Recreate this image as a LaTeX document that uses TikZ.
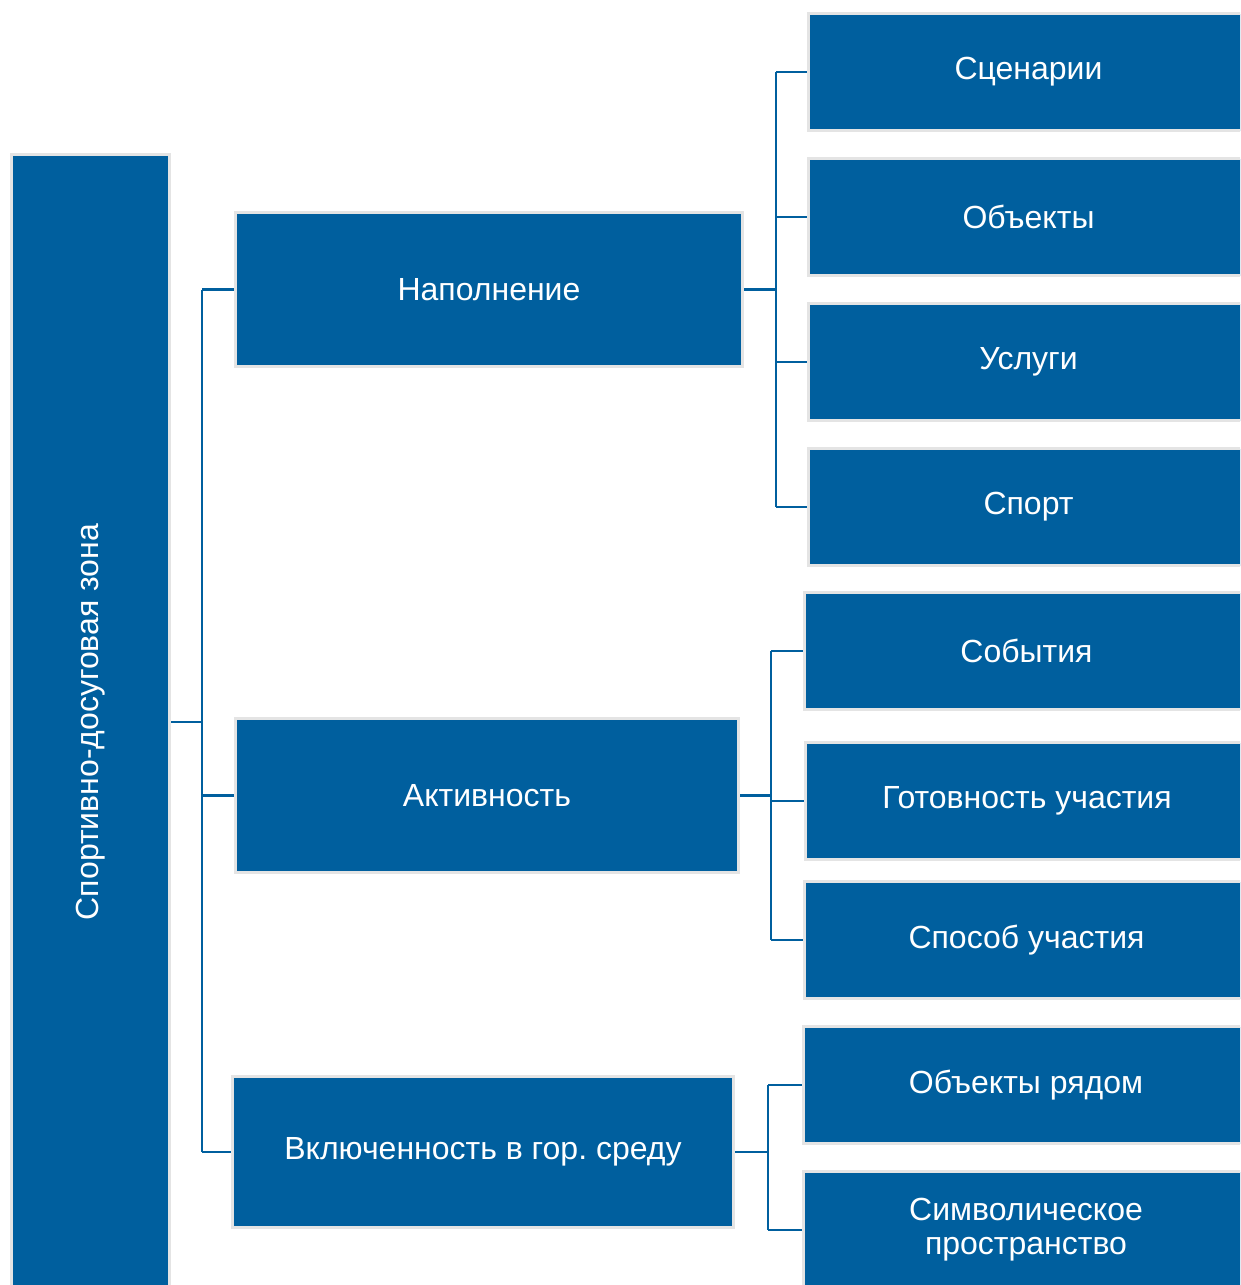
\documentclass[tikz,border=0pt]{standalone}
\usepackage{fontspec}
\setmainfont{Liberation Sans}
\frenchspacing
\definecolor{boxblue}{RGB}{0,95,158}
\definecolor{boxborder}{RGB}{228,228,228}
\begin{document}
\begin{tikzpicture}[x=1pt,y=-1pt,
  box/.style={draw=boxborder, line width=3pt, fill=boxblue, text=white, inner sep=0pt,
    font=\fontsize{32}{34}\selectfont, align=center},
  conn/.style={draw=boxblue, line width=2.5pt}]
\useasboundingbox (0,0) rectangle (1240,1285);
\clip (0,0) rectangle (1240,1285);
% main
\node[box, minimum width=158pt, minimum height=1135pt] (main) at (90.5,722) {};
\node[text=white, rotate=90, font=\fontsize{32}{34}\selectfont] (maintext) at (90.5,722) {Спортивно-досуговая зона};
% level 2
\node[box, minimum width=507pt, minimum height=154pt] (nap) at (489,289.5) {Наполнение};
\node[box, minimum width=503pt, minimum height=154pt] (akt) at (487,795.5) {Активность};
\node[box, minimum width=501pt, minimum height=151pt] (vkl) at (483,1152) {Включенность в гор.\ среду};
% level 3
\node[box, minimum width=440pt, minimum height=117pt] (scen) at (1028.5,72) {Сценарии};
\node[box, minimum width=440pt, minimum height=117pt] (obj) at (1028.5,217) {Объекты};
\node[box, minimum width=440pt, minimum height=117pt] (usl) at (1028.5,362) {Услуги};
\node[box, minimum width=440pt, minimum height=117pt] (sport) at (1028.5,507) {Спорт};
\node[box, minimum width=444pt, minimum height=117pt] (sob) at (1026.5,651) {События};
\node[box, minimum width=443pt, minimum height=117pt] (got) at (1027,801) {Готовность участия};
\node[box, minimum width=444pt, minimum height=117pt] (spos) at (1026.5,940) {Способ участия};
\node[box, minimum width=445pt, minimum height=117pt] (objr) at (1026,1085) {Объекты рядом};
\node[box, minimum width=445pt, minimum height=117pt] (simv) at (1026,1230) {Символическое\\пространство};
% connectors main
\coordinate (b1) at (202,722);
\draw[conn] (main.east) -- (b1);
\draw[conn] (b1 |- nap.west) -- (b1 |- vkl.west);
\draw[conn] (b1 |- nap.west) -- (nap.west);
\draw[conn] (b1 |- akt.west) -- (akt.west);
\draw[conn] (b1 |- vkl.west) -- (vkl.west);
% connectors nap
\coordinate (b2) at (776,289.5);
\draw[conn] (nap.east) -- (b2);
\draw[conn] (b2 |- scen.west) -- (b2 |- sport.west);
\foreach \n in {scen,obj,usl,sport} \draw[conn] (b2 |- \n.west) -- (\n.west);
% connectors akt
\coordinate (b3) at (771,795.5);
\draw[conn] (akt.east) -- (b3);
\draw[conn] (b3 |- sob.west) -- (b3 |- spos.west);
\foreach \n in {sob,got,spos} \draw[conn] (b3 |- \n.west) -- (\n.west);
% connectors vkl
\coordinate (b4) at (768,1152);
\draw[conn] (vkl.east) -- (b4);
\draw[conn] (b4 |- objr.west) -- (b4 |- simv.west);
\foreach \n in {objr,simv} \draw[conn] (b4 |- \n.west) -- (\n.west);
\end{tikzpicture}
\end{document}
